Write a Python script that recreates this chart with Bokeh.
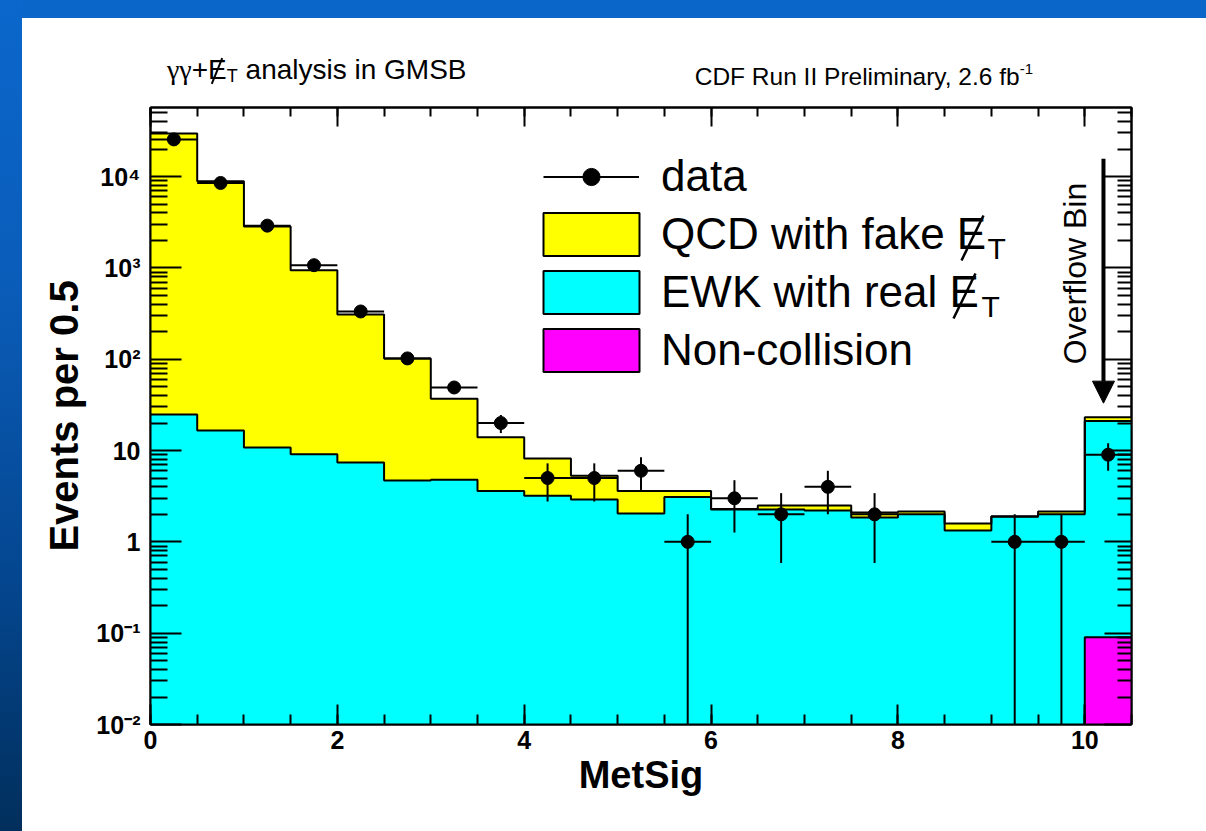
import numpy as np
from bokeh.plotting import figure
from bokeh.models import (Range1d, FixedTicker, LinearAxis, LogAxis, Legend, LegendItem,
                          Label, Arrow, NormalHead, ColumnDataSource, Div, PolyAnnotation)
from bokeh.layouts import column
from bokeh.embed import file_html
from bokeh.resources import INLINE

# ---------------- data ----------------
bin_edges = [0.0, 0.5, 1.0, 1.5, 2.0, 2.5, 3.0, 3.5, 4.0, 4.5, 5.0, 5.5,
             6.0, 6.5, 7.0, 7.5, 8.0, 8.5, 9.0, 9.5, 10.0, 10.5]
qcd_fake_met = [29480, 8880, 2830, 931, 302, 97, 32, 10.4, 5.0, 2.4, 1.56, 0.5,
                0.03, 0.24, 0.3, 0.25, 0.15, 0.26, 0.03, 0.15, 2.2]
ewk_real_met = [24.8, 16.6, 10.8, 9.1, 7.4, 4.7, 4.8, 3.6, 3.2, 2.9, 2.04, 3.1,
                2.26, 2.26, 2.2, 1.85, 2.0, 1.33, 1.88, 2.0, 20.9]
non_collision = [0, 0, 0, 0, 0, 0, 0, 0, 0, 0, 0, 0,
                 0, 0, 0, 0, 0, 0, 0, 0, 0.09]
data_counts = [25500, 8500, 2900, 1070, 333, 102, 49, 20, 5, 5, 6, 1,
               3, 2, 4, 2, 0, 0, 1, 1, 9]

y_major_ticks = [1e-2, 1e-1, 1, 10, 100, 1000, 10000]
y_tick_labels = ["10\u207b\u00b2", "10\u207b\u00b9", "1", "10", "10\u00b2", "10\u00b3", "10\u2074"]
x_major_ticks = [0, 2, 4, 6, 8, 10]
x_tick_labels = ["0", "2", "4", "6", "8", "10"]

FONT = "Liberation Sans"
FLOOR = 1e-3

edges = np.array(bin_edges)
left, right = edges[:-1], edges[1:]
centers = 0.5 * (left + right)
nc = np.array(non_collision, float)
ewk = np.array(ewk_real_met, float)
qcd = np.array(qcd_fake_met, float)
stack_nc = nc
stack_ewk = nc + ewk
stack_tot = stack_ewk + qcd


def fl(a):
    return np.maximum(a, FLOOR)


def ext(a):
    return np.append(a, a[-1])


p = figure(width=1184, height=738, x_range=Range1d(0, 10.5), y_range=Range1d(1e-2, 5.7e4),
           y_axis_type="log", output_backend="svg", toolbar_location=None,
           min_border_left=128, min_border_right=75, min_border_top=14, min_border_bottom=107,
           background_fill_color="white", border_fill_color="white",
           outline_line_color="black", outline_line_width=2)
p.grid.visible = False
p.margin = (0, 0, 0, 22)

# filled stacked histograms
p.varea_step(x=edges, y1=FLOOR, y2=ext(fl(stack_tot)), step_mode="after", fill_color="#ffff00")
p.varea_step(x=edges, y1=FLOOR, y2=ext(fl(stack_ewk)), step_mode="after", fill_color="#00ffff")
p.varea_step(x=edges, y1=FLOOR, y2=ext(fl(stack_nc)), step_mode="after", fill_color="#ff00ff")
for s in (stack_tot, stack_ewk, stack_nc):
    p.step(x=edges, y=ext(fl(s)), mode="after", line_color="black", line_width=2)

# data with poisson errors
d = np.array(data_counts, float)
has = d > 0
err = np.sqrt(d)
src = ColumnDataSource(dict(x=centers[has], y=d[has], lo=np.maximum(d[has] - err[has], FLOOR),
                            hi=d[has] + err[has], xl=left[has], xr=right[has]))
p.segment(x0="x", y0="lo", x1="x", y1="hi", source=src, line_color="black", line_width=2)
hseg = p.segment(x0="xl", y0="y", x1="xr", y1="y", source=src, line_color="black", line_width=2)
dots = p.scatter(x="x", y="y", source=src, size=13, marker="circle",
                 fill_color="black", line_color="black")

# axes
xt = FixedTicker(ticks=x_major_ticks, minor_ticks=list(edges))
yminor = [m * 10.0 ** e for e in range(-2, 5) for m in range(2, 10)]
yt = FixedTicker(ticks=y_major_ticks, minor_ticks=yminor)

xb = p.xaxis[0]
yl = p.yaxis[0]
xb.ticker = xt
yl.ticker = yt
xb.major_label_overrides = dict(zip(x_major_ticks, x_tick_labels))
yl.major_label_overrides = dict(zip(y_major_ticks, y_tick_labels))

xa = LinearAxis(ticker=xt)
yr = LogAxis(ticker=yt)
p.add_layout(xa, "above")
p.add_layout(yr, "right")

for ax, maj, mnr in ((xb, 20, 10), (xa, 19, 9), (yl, 31, 17), (yr, 27, 14)):
    ax.major_tick_in = maj
    ax.major_tick_out = 0
    ax.minor_tick_in = mnr
    ax.minor_tick_out = 0
    ax.axis_line_width = 2
    ax.major_tick_line_width = 2
    ax.minor_tick_line_width = 2
    ax.axis_line_color = "black"
    ax.major_tick_line_color = "black"
    ax.minor_tick_line_color = "black"
    ax.major_label_text_font = FONT
    ax.major_label_text_font_style = "bold"
    ax.major_label_text_font_size = "25px"
    ax.major_label_text_color = "black"
    ax.axis_label_text_font = FONT
    ax.axis_label_text_font_style = "bold"
    ax.axis_label_text_font_size = "38px"
    ax.axis_label_text_color = "black"

for ax in (xa, yr):
    ax.major_label_text_color = None
    ax.major_label_text_font_size = "1px"
    ax.major_label_standoff = 0

xb.axis_label = "MetSig"
yl.axis_label = "Events per 0.5"
yl.axis_label_text_font_size = "40px"
xb.major_label_standoff = 6
xb.axis_label_standoff = 2
yl.major_label_standoff = 10
yl.axis_label_standoff = 7

# legend: "data" entry and the three filled-box entries (box entries use one
# degenerate, invisible quad each so the legend can draw them)
legend_common = dict(orientation="vertical", padding=0, margin=0, border_line_color=None,
                     background_fill_alpha=0, label_text_font=FONT, label_text_font_size="44px",
                     label_text_color="black")
p.add_layout(Legend(items=[LegendItem(label="data", renderers=[hseg, dots])],
                    location=(393, 523), glyph_width=96, glyph_height=43, label_standoff=22,
                    **legend_common))

stub = dict(left=[0.0], right=[0.0], top=[FLOOR], bottom=[FLOOR])
box_items = []
for lbl, col in (("QCD with fake E", "#ffff00"), ("EWK with real E", "#00ffff"), ("Non-collision", "#ff00ff")):
    r = p.quad(source=ColumnDataSource(stub), left="left", right="right", top="top", bottom="bottom",
               fill_color=col, line_color="black", line_width=2)
    box_items.append(LegendItem(label=lbl, renderers=[r]))
p.add_layout(Legend(items=box_items, location=(381, 347), glyph_width=120, glyph_height=54,
                    label_standoff=10, spacing=4, **legend_common))


def lab(text, x, y, size, **kw):
    opts = dict(text_font=FONT, text_font_size=f"{size}px", text_color="black",
                text_baseline="alphabetic")
    opts.update(kw)
    p.add_layout(Label(x=x, y=y, x_units="screen", y_units="screen", text=text, **opts))


def slash(x0, y0, x1, y1):
    p.add_layout(PolyAnnotation(xs=[x0, x1], ys=[y0, y1], xs_units="screen", ys_units="screen",
                                line_color="black", line_alpha=1.0, line_width=2.5, fill_alpha=0))


# slash through E and subscript T for the missing-ET symbol in the legend
slash(811, 464, 833, 509)
lab("T", 837, 476, 30)
slash(803, 406, 825, 451)
lab("T", 831, 418, 30)

# overflow arrow and label
p.add_layout(Arrow(x_start=10.2, y_start=1.57e4, x_end=10.2, y_end=33, line_width=4,
                   line_color="black",
                   end=NormalHead(size=22, fill_color="black", line_color="black")))
p.add_layout(Label(x=9.89, y=867, text="Overflow Bin", angle=np.pi / 2, text_align="center",
                   text_baseline="middle", text_font=FONT, text_font_size="32px",
                   text_color="black"))

# header line above the frame
header_html = (
    "<div style=\"position:relative;width:1184px;height:75px;background:white;"
    "font-family:'Liberation Sans',Arial,sans-serif;color:#000;\">"
    "<span style=\"position:absolute;left:145px;top:38px;font-size:28px;line-height:28px;white-space:nowrap;\">"
    "<span style=\"font-family:'Liberation Serif',serif;\">\u03b3\u03b3</span>+"
    "<span style=\"position:relative;display:inline-block;\">E"
    "<span style=\"position:absolute;left:8px;top:1px;width:2px;height:28px;background:#000;"
    "transform:rotate(22deg);\"></span></span>"
    "<span style=\"font-size:18px;position:relative;top:3px;\">T</span> analysis in GMSB</span>"
    "<span style=\"position:absolute;right:173px;top:46px;font-size:24.5px;line-height:25px;white-space:nowrap;\">"
    "CDF Run II Preliminary, 2.6 fb<span style=\"font-size:15px;position:relative;top:-11px;\">-1</span></span>"
    "</div>"
)
header = Div(text=header_html, width=1184, height=75, margin=(18, 0, 0, 22),
             styles={"background": "white"})

page_bg = ("linear-gradient(180deg, #0b67cc 0%, #0a5cb8 35%, #04468f 70%, #012f5c 100%) 0 0 / 22px 100% no-repeat, "
           "linear-gradient(#0b66ca, #0b66ca) 0 0 / 100% 18px no-repeat, #ffffff")
page = column(header, p, spacing=0, styles={"background": page_bg})

open("out.html", "w").write(file_html(page, INLINE))
